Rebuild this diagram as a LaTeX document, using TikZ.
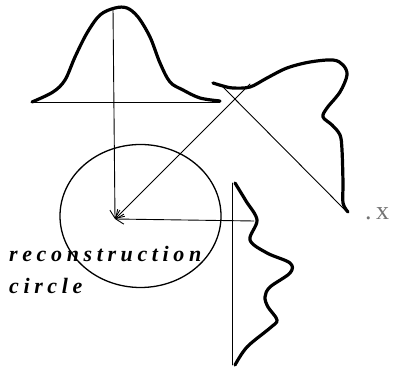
\documentclass[tikz,border=0pt]{standalone}
\usepackage{fontspec}
\setmainfont{Liberation Serif}
\newfontfamily\rotulo[LetterSpace=21]{Liberation Serif}
\usetikzlibrary{arrows.meta}
\begin{document}
\begin{tikzpicture}[x=1pt, y=-1pt, line cap=round, line join=round,
    perfil/.style={line width=3.2pt},
    base/.style={line width=0.9pt},
    rayo/.style={line width=0.9pt, -{Straight Barb[length=8pt, width=10pt]}}]
  \useasboundingbox (0,0) rectangle (394,371);
  % los puntos de las flechas
  \coordinate (centro) at (115,219);
  \coordinate (cima) at (113,8);
  \coordinate (diag) at (250,84);
  \coordinate (lado) at (254,221);
  % el circulo de reconstruccion
  \draw[line width=1.3pt] (140.5,216) ellipse (80.5 and 71.5);
  % la campana de arriba
  \draw[base] (32,102) -- (220,102);
  \draw[perfil] plot[smooth, tension=0.55] coordinates {(32,102) (53,92) (65,80) (75,57)
    (87,33) (100,15) (115,8) (127,8) (138,17) (150,37) (160,63) (170,82) (183,90)
    (200,98) (220,101)};
  % la proyeccion en diagonal
  \draw[base] (221,85) -- (347,212);
  \draw[perfil] plot[smooth, tension=0.55] coordinates {(213,83) (223,86) (233,88)
    (250,87) (267,78) (287,68) (310,62) (333,60) (343,65) (347,75) (340,92) (327,108)
    (323,117) (332,125) (340,135) (342,150) (343,183) (343,203) (348,212)};
  % la proyeccion de abajo
  \draw[base] (232,183) -- (232,365);
  \draw[perfil] plot[smooth, tension=0.55] coordinates {(235,183) (246,201) (257,220)
    (250,240) (267,253) (290,263) (290,273) (270,287) (265,297) (268,307) (277,320)
    (270,328) (247,347) (235,365)};
  % las tres flechas hacia el centro
  \draw[rayo] (cima) -- (centro);
  \draw[rayo] (diag) -- (centro);
  \draw[rayo] (lado) -- (centro);
  % los textos
  \node[anchor=base west, inner sep=0pt, font=\rotulo\bfseries\itshape\fontsize{22}{24}\selectfont]
    (rec) at (9,262) {reconstruction};
  \node[anchor=base west, inner sep=0pt, font=\rotulo\bfseries\itshape\fontsize{22}{24}\selectfont]
    (cir) at (9,294) {circle};
  \node[anchor=base west, inner sep=0pt, text=black!55, font=\fontsize{26}{28}\selectfont]
    (eje) at (365,220) {.\,x};
\end{tikzpicture}
\end{document}
